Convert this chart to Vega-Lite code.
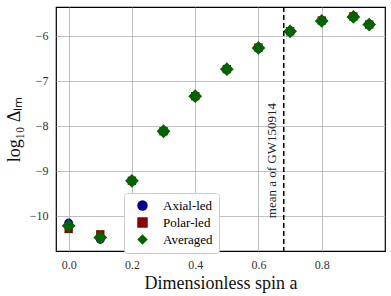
{
  "$schema": "https://vega.github.io/schema/vega-lite/v6.json",
  "autosize": "none",
  "width": 329,
  "height": 244,
  "padding": {"left": 56, "top": 7, "right": 6, "bottom": 45},
  "background": "white",
  "config": {
    "font": "Liberation Serif",
    "view": {"stroke": "black", "strokeWidth": 1.2},
    "axis": {
      "labelFont": "Liberation Serif",
      "titleFont": "Liberation Serif",
      "labelFontSize": 12,
      "titleFontSize": 18,
      "titleFontWeight": "normal",
      "labelColor": "#333",
      "titleColor": "#111",
      "gridColor": "#b0b0b0",
      "gridWidth": 1,
      "gridOpacity": 0.8,
      "domain": false,
      "ticks": false,
      "labelPadding": 8
    },
    "legend": {
      "labelFont": "Liberation Serif",
      "labelFontSize": 13
    }
  },
  "data": {
    "values": [
      {"a": 0.0, "v": -10.16, "series": "Axial-led"},
      {"a": 0.1, "v": -10.52, "series": "Axial-led"},
      {"a": 0.2, "v": -9.23, "series": "Axial-led"},
      {"a": 0.3, "v": -8.13, "series": "Axial-led"},
      {"a": 0.4, "v": -7.35, "series": "Axial-led"},
      {"a": 0.5, "v": -6.75, "series": "Axial-led"},
      {"a": 0.6, "v": -6.27, "series": "Axial-led"},
      {"a": 0.7, "v": -5.9, "series": "Axial-led"},
      {"a": 0.8, "v": -5.67, "series": "Axial-led"},
      {"a": 0.9, "v": -5.58, "series": "Axial-led"},
      {"a": 0.95, "v": -5.75, "series": "Axial-led"},
      {"a": 0.0, "v": -10.29, "series": "Polar-led"},
      {"a": 0.1, "v": -10.41, "series": "Polar-led"},
      {"a": 0.2, "v": -9.22, "series": "Polar-led"},
      {"a": 0.3, "v": -8.12, "series": "Polar-led"},
      {"a": 0.4, "v": -7.34, "series": "Polar-led"},
      {"a": 0.5, "v": -6.74, "series": "Polar-led"},
      {"a": 0.6, "v": -6.26, "series": "Polar-led"},
      {"a": 0.7, "v": -5.9, "series": "Polar-led"},
      {"a": 0.8, "v": -5.66, "series": "Polar-led"},
      {"a": 0.9, "v": -5.57, "series": "Polar-led"},
      {"a": 0.95, "v": -5.75, "series": "Polar-led"},
      {"a": 0.0, "v": -10.22, "series": "Averaged"},
      {"a": 0.1, "v": -10.48, "series": "Averaged"},
      {"a": 0.2, "v": -9.22, "series": "Averaged"},
      {"a": 0.3, "v": -8.12, "series": "Averaged"},
      {"a": 0.4, "v": -7.34, "series": "Averaged"},
      {"a": 0.5, "v": -6.74, "series": "Averaged"},
      {"a": 0.6, "v": -6.27, "series": "Averaged"},
      {"a": 0.7, "v": -5.9, "series": "Averaged"},
      {"a": 0.8, "v": -5.67, "series": "Averaged"},
      {"a": 0.9, "v": -5.58, "series": "Averaged"},
      {"a": 0.95, "v": -5.75, "series": "Averaged"}
    ]
  },
  "encoding": {
    "x": {
      "field": "a", "type": "quantitative",
      "scale": {"domain": [-0.04, 1.0], "nice": false, "zero": false},
      "axis": {"values": [0, 0.2, 0.4, 0.6, 0.8], "format": ".1f", "title": "Dimensionless spin a", "titlePadding": 4}
    },
    "y": {
      "field": "v", "type": "quantitative",
      "scale": {"domain": [-10.78, -5.36], "nice": false, "zero": false},
      "axis": {"values": [-10, -9, -8, -7, -6], "format": "d", "title": "log₁₀ Δₗₘ", "titlePadding": 6}
    }
  },
  "layer": [
    {
      "transform": [{"filter": "datum.series == 'Axial-led'"}],
      "mark": {"type": "point", "filled": true, "opacity": 1, "size": 80},
      "encoding": {
        "color": {
          "field": "series", "type": "nominal",
          "scale": {"domain": ["Axial-led", "Polar-led", "Averaged"], "range": ["#00008b", "#8b0000", "#006400"]},
          "legend": {
            "title": null, "orient": "none", "legendX": 68, "legendY": 186,
            "fillColor": "white", "strokeColor": "#cccccc", "cornerRadius": 3,
            "padding": 6, "rowPadding": 3, "symbolSize": 110, "labelOffset": 14, "symbolOffset": 6
          }
        },
        "shape": {
          "field": "series", "type": "nominal",
          "scale": {"domain": ["Axial-led", "Polar-led", "Averaged"], "range": ["circle", "square", "diamond"]},
          "legend": {
            "title": null, "orient": "none", "legendX": 68, "legendY": 186,
            "fillColor": "white", "strokeColor": "#cccccc", "cornerRadius": 3,
            "padding": 6, "rowPadding": 3, "symbolSize": 110, "labelOffset": 14, "symbolOffset": 6
          }
        }
      }
    },
    {
      "transform": [{"filter": "datum.series == 'Polar-led'"}],
      "mark": {"type": "point", "filled": true, "opacity": 1, "size": 70},
      "encoding": {
        "color": {"field": "series", "type": "nominal"},
        "shape": {"field": "series", "type": "nominal"}
      }
    },
    {
      "transform": [{"filter": "datum.series == 'Averaged'"}],
      "mark": {"type": "point", "filled": true, "opacity": 1, "size": 190},
      "encoding": {
        "color": {"field": "series", "type": "nominal"},
        "shape": {"field": "series", "type": "nominal"}
      }
    },
    {
      "data": {"values": [{"a": 0.68}]},
      "mark": {"type": "rule", "color": "black", "strokeDash": [5, 3], "strokeWidth": 1.5},
      "encoding": {"x": {"field": "a", "type": "quantitative"}, "y": null}
    },
    {
      "data": {"values": [{"a": 0.68, "v": -10.05, "label": "mean a of GW150914"}]},
      "mark": {"type": "text", "angle": 270, "align": "left", "baseline": "bottom", "dy": -5, "fontSize": 13, "font": "Liberation Serif", "color": "#222"},
      "encoding": {
        "text": {"field": "label"}
      }
    }
  ]
}
